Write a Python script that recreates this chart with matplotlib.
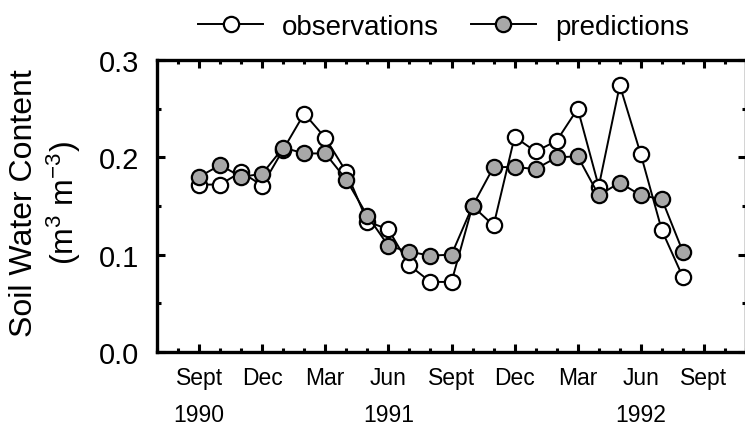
import numpy as np
import matplotlib
matplotlib.use("Agg")
import matplotlib.pyplot as plt
from matplotlib.ticker import MultipleLocator, FixedLocator, FormatStrFormatter
import matplotlib.transforms as mtransforms

plt.rcParams['font.family'] = 'Liberation Sans'
plt.rcParams['mathtext.fontset'] = 'custom'
plt.rcParams['mathtext.rm'] = 'Liberation Sans'
plt.rcParams['mathtext.it'] = 'Liberation Sans'

# months counted from Sept 1990 (0) to Aug 1992 (23)
months = np.arange(24)
observations = [0.172, 0.172, 0.185, 0.171, 0.208, 0.245, 0.220, 0.185,
                0.134, 0.126, 0.089, 0.072, 0.072, 0.150, 0.130, 0.221,
                0.206, 0.217, 0.250, 0.170, 0.274, 0.203, 0.125, 0.077]
predictions = [0.180, 0.192, 0.180, 0.183, 0.210, 0.204, 0.204, 0.177,
               0.140, 0.109, 0.103, 0.099, 0.100, 0.150, 0.190, 0.190,
               0.188, 0.200, 0.201, 0.161, 0.174, 0.161, 0.157, 0.103]

tick_months = [0, 3, 6, 9, 12, 15, 18, 21, 24]
tick_labels = ['Sept', 'Dec', 'Mar', 'Jun', 'Sept', 'Dec', 'Mar', 'Jun', 'Sept']
year_pos = [0, 9, 21]
year_labels = ['1990', '1991', '1992']

W, H = 745, 427
fig = plt.figure(figsize=(W / 100, H / 100), dpi=100)
ax = fig.add_axes([157 / W, (H - 353) / H, (746 - 157) / W, 292 / H])

ax.plot(months, observations, '-o', color='black', lw=1.4, ms=11, mew=1.6,
        mfc='white', mec='black', label='observations', zorder=3)
ax.plot(months, predictions, '-o', color='black', lw=1.4, ms=11, mew=1.6,
        mfc='#a8a8a8', mec='black', label='predictions', zorder=4)

ax.set_xlim(-2, 26)
ax.set_ylim(0, 0.3)
ax.xaxis.set_major_locator(FixedLocator(tick_months))
ax.xaxis.set_minor_locator(MultipleLocator(1))
ax.set_xticklabels(tick_labels, fontsize=16.5)
ax.yaxis.set_major_locator(MultipleLocator(0.1))
ax.yaxis.set_minor_locator(MultipleLocator(0.05))
ax.yaxis.set_major_formatter(FormatStrFormatter('%.1f'))
ax.tick_params(axis='y', labelsize=21)

ax.tick_params(which='both', direction='in', top=True, right=True, width=2.2)
ax.tick_params(which='major', length=6)
ax.tick_params(which='minor', length=3)
ax.tick_params(axis='x', which='major', pad=10)
ax.tick_params(axis='y', which='major', pad=13)
for s in ax.spines.values():
    s.set_linewidth(2.4)

trans = mtransforms.blended_transform_factory(ax.transData, ax.transAxes)
for xp, lab in zip(year_pos, year_labels):
    ax.text(xp, -0.215, lab, transform=trans, ha='center', va='center', fontsize=16.5)

fig.text(24 / W, 1 - 203 / H, 'Soil Water Content', rotation=90,
         ha='center', va='center', fontsize=23)
fig.text(64 / W, 1 - 203 / H, '(m$^{3}$ m$^{-3}$)', rotation=90,
         ha='center', va='center', fontsize=23)

fig.legend(loc='center left', bbox_to_anchor=(198 / W, 1 - 28 / H), ncol=2,
           frameon=False, fontsize=20, numpoints=1, borderpad=0, borderaxespad=0,
           handlelength=2.34, handletextpad=0.68, columnspacing=1.15)

fig.savefig('out.png', dpi=100)
